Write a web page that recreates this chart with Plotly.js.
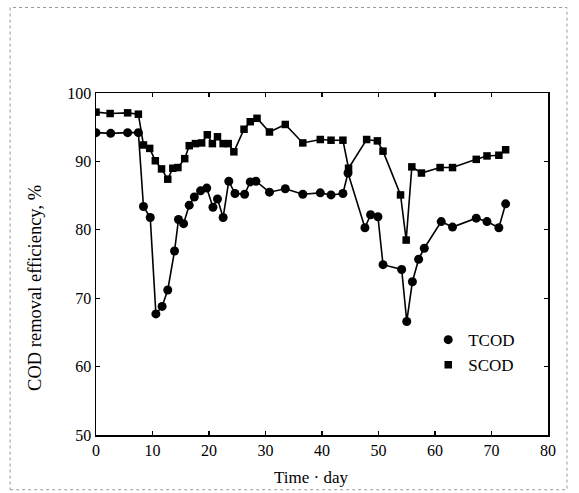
<!DOCTYPE html>
<html>
<head>
<meta charset="utf-8">
<script src="https://cdn.plot.ly/plotly-3.0.1.min.js"></script>
<style>html,body{margin:0;padding:0;background:#fff;}#chart{width:579px;height:493px;}</style>
</head>
<body>
<div id="chart"></div>
<script>
// TCOD removal efficiency (%)
const tcodDays = [0, 2.6, 5.6, 7.5, 8.4, 9.6, 10.6, 11.7, 12.7, 13.9, 14.6, 15.5, 16.5, 17.4, 18.5, 19.6, 20.7, 21.5, 22.5, 23.5, 24.6, 26.3, 27.3, 28.3, 30.7, 33.5, 36.6, 39.7, 41.6, 43.7, 44.6, 47.6, 48.6, 49.9, 50.8, 54.1, 55.0, 56.0, 57.1, 58.1, 61.1, 63.1, 67.3, 69.2, 71.3, 72.5];
const tcodVals = [94.2, 94.1, 94.2, 94.2, 83.4, 81.8, 67.7, 68.8, 71.2, 76.9, 81.5, 80.9, 83.6, 84.8, 85.7, 86.1, 83.3, 84.5, 81.8, 87.1, 85.3, 85.2, 87.0, 87.1, 85.5, 86.0, 85.2, 85.4, 85.1, 85.3, 88.3, 80.3, 82.2, 81.9, 74.9, 74.2, 66.6, 72.4, 75.7, 77.3, 81.2, 80.4, 81.7, 81.2, 80.3, 83.8];
// SCOD removal efficiency (%)
const scodDays = [0, 2.5, 5.6, 7.5, 8.4, 9.5, 10.5, 11.6, 12.7, 13.6, 14.5, 15.7, 16.5, 17.6, 18.7, 19.7, 20.6, 21.5, 22.5, 23.4, 24.4, 26.2, 27.3, 28.5, 30.7, 33.5, 36.6, 39.7, 41.6, 43.7, 44.7, 47.9, 49.8, 50.8, 53.9, 54.9, 55.9, 57.6, 60.9, 63.1, 67.3, 69.2, 71.3, 72.5];
const scodVals = [97.2, 97.0, 97.1, 96.9, 92.4, 91.9, 90.1, 88.9, 87.4, 89.0, 89.1, 90.4, 92.3, 92.6, 92.7, 93.9, 92.6, 93.6, 92.6, 92.6, 91.4, 94.7, 95.8, 96.3, 94.3, 95.4, 92.7, 93.2, 93.1, 93.1, 89.0, 93.2, 93.0, 91.5, 85.1, 78.5, 89.2, 88.3, 89.1, 89.1, 90.3, 90.8, 90.9, 91.7];
const xTicks = [0, 10, 20, 30, 40, 50, 60, 70, 80];
const yTicks = [50, 60, 70, 80, 90, 100];
const xTitle = 'Time · day';
const yTitle = 'COD removal efficiency, %';

const serif = 'Liberation Serif, DejaVu Serif, serif';

const traces = [
  {x: tcodDays, y: tcodVals, mode: 'lines', line: {color: '#000', width: 1.6}, showlegend: false, hoverinfo: 'skip'},
  {x: scodDays, y: scodVals, mode: 'lines', line: {color: '#000', width: 1.6}, showlegend: false, hoverinfo: 'skip'},
  {x: tcodDays, y: tcodVals, mode: 'markers', name: 'TCOD', marker: {symbol: 'circle', size: 9, color: '#000'}},
  {x: scodDays, y: scodVals, mode: 'markers', name: 'SCOD', marker: {symbol: 'square', size: 7.5, color: '#000'}}
];

const axisCommon = {
  showgrid: false, zeroline: false, showline: true, linecolor: '#000', linewidth: 1.5,
  mirror: 'ticks', ticks: 'inside', ticklen: 4, tickcolor: '#000', tickwidth: 1.2,
  tickfont: {family: serif, size: 16, color: '#000'}
};

const layout = {
  width: 579, height: 493,
  margin: {l: 96, r: 31, t: 93, b: 58},
  paper_bgcolor: '#fff', plot_bgcolor: '#fff',
  xaxis: Object.assign({}, axisCommon, {
    range: [0, 80], tickmode: 'array', tickvals: xTicks, ticktext: xTicks.map(String)
  }),
  yaxis: Object.assign({}, axisCommon, {
    range: [50, 100], tickmode: 'array', tickvals: yTicks, ticktext: yTicks.map(String)
  }),
  legend: {
    x: 0.735, y: 0.33, xanchor: 'left', yanchor: 'top',
    bgcolor: 'rgba(0,0,0,0)', borderwidth: 0,
    font: {family: serif, size: 17, color: '#000'},
    itemwidth: 30, tracegroupgap: 0
  },
  annotations: [
    {text: xTitle, xref: 'paper', yref: 'paper', x: 0.475, y: -0.125, xanchor: 'center', yanchor: 'middle',
     showarrow: false, font: {family: serif, size: 17, color: '#000'}},
    {text: yTitle, xref: 'paper', yref: 'paper', x: -0.135, y: 0.43, xanchor: 'center', yanchor: 'middle',
     textangle: -90, showarrow: false, font: {family: serif, size: 18.5, color: '#000'}}
  ],
  shapes: [{
    type: 'rect', xref: 'paper', yref: 'paper',
    x0: -0.19, x1: 1.042, y0: -0.16, y1: 1.25,
    line: {color: '#999', width: 1, dash: 'dot'}
  }],
  showlegend: true
};

Plotly.newPlot('chart', traces, layout, {displayModeBar: false, staticPlot: true});
</script>
</body>
</html>
